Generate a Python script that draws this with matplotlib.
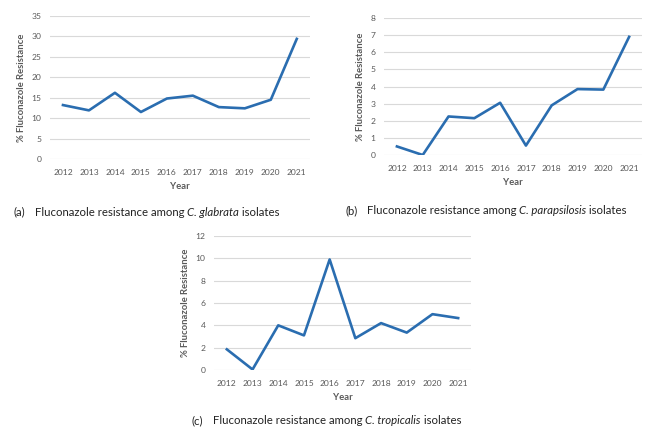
import matplotlib
matplotlib.use("Agg")
import matplotlib.pyplot as plt
import numpy as np

years = ["2012", "2013", "2014", "2015", "2016", "2017", "2018", "2019", "2020", "2021"]
glabrata = [13.2, 11.9, 16.2, 11.5, 14.8, 15.5, 12.7, 12.4, 14.5, 29.4]
parapsilosis = [0.5, 0.0, 2.25, 2.15, 3.05, 0.55, 2.9, 3.85, 3.82, 6.9]
tropicalis = [1.85, 0.05, 4.0, 3.1, 9.9, 2.85, 4.2, 3.35, 5.0, 4.65]

plt.rcParams['font.family'] = ['Lato', 'DejaVu Sans']

LINE = '#2a6db0'
GRID = '#d9d9d9'
TXT = '#595959'

fig = plt.figure(figsize=(6.56, 4.29), dpi=100)

def panel(rect, vals, ymax, step):
    ax = fig.add_axes(rect)
    x = np.arange(len(years))
    ax.plot(x, vals, color=LINE, lw=1.9, solid_joinstyle='round', zorder=3)
    ax.set_xlim(-0.5, len(years) - 0.5)
    ax.set_ylim(0, ymax)
    ax.set_yticks(np.arange(0, ymax + step / 2, step))
    ax.set_xticks(x)
    ax.set_xticklabels(years)
    ax.yaxis.grid(True, color=GRID, lw=0.8)
    ax.set_axisbelow(True)
    for s in ax.spines.values():
        s.set_visible(False)
    ax.tick_params(length=0, labelsize=6.1, labelcolor=TXT)
    ax.tick_params(axis='y', pad=6)
    ax.tick_params(axis='x', pad=7)
    ax.set_xlabel('Year', fontsize=6.8, fontweight='bold', color=TXT, labelpad=4.5)
    ax.set_ylabel('% Fluconazole Resistance', fontsize=6.8, fontweight='bold', color=TXT, labelpad=4)
    return ax

panel([0.0762, 0.6294, 0.396, 0.3333], glabrata, 35, 5)
panel([0.5854, 0.6387, 0.3933, 0.3193], parapsilosis, 8, 1)
panel([0.3262, 0.1375, 0.3918, 0.3124], tropicalis, 12, 2)

fig.canvas.draw()
renderer = fig.canvas.get_renderer()

def caption(x_lab, x_txt, y, label, species):
    fs = 8.2
    yb = 1 - (y + 3.5) / 429
    kw = dict(fontsize=fs, color='#222222', va='baseline', ha='left')
    fig.text(x_lab / 656, yb, label, **kw)
    pieces = [("Fluconazole resistance among ", 'normal'), (species, 'italic'), (" isolates", 'normal')]
    xpix = x_txt
    for txt, style in pieces:
        t = fig.text(xpix / 656, yb, txt, fontstyle=style, **kw)
        bb = t.get_window_extent(renderer=renderer)
        xpix += bb.width

caption(13, 35, 212, "(a)", "C. glabrata")
caption(346, 367, 211, "(b)", "C. parapsilosis")
caption(192, 213, 421, "(c)", "C. tropicalis")

fig.savefig('out.png', dpi=100, facecolor='white')
